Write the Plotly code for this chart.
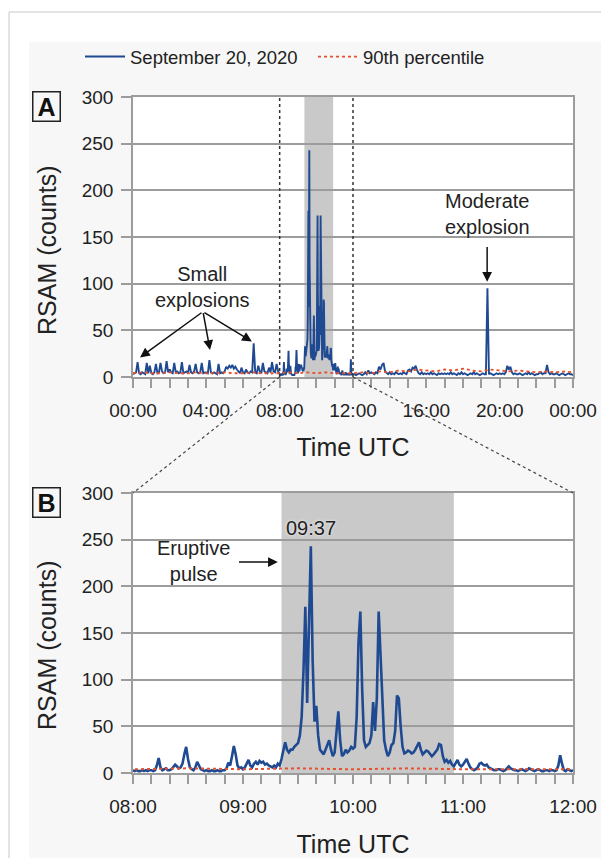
import pandas as pd
import plotly.graph_objects as go

DAY = "2020-09-20"
NEXT = "2020-09-21"

# RSAM 00:00-07:55, 5-min samples (one row per hour)
pre_rows = [
    [3, 4, 5, 16, 4, 3, 5, 4, 3, 15, 4, 12],
    [4, 3, 5, 14, 4, 5, 15, 6, 4, 5, 17, 5],
    [8, 5, 4, 15, 5, 6, 4, 5, 16, 4, 5, 6],
    [4, 13, 5, 4, 6, 14, 5, 4, 5, 15, 4, 5],
    [5, 4, 18, 5, 4, 5, 4, 3, 14, 4, 5, 4],
    [6, 11, 9, 12, 10, 13, 9, 11, 8, 6, 4, 10],
    [5, 4, 8, 5, 4, 6, 5, 36, 5, 4, 12, 6],
    [4, 15, 6, 5, 4, 10, 5, 16, 6, 5, 14, 6],
]
# RSAM 08:00-12:00, 1-min samples
zoom_vals = [
    3, 2, 3, 2, 2, 3, 2, 3, 2, 3, 3, 2, 3,
    8, 16, 6, 3, 4, 5, 3, 3, 4,
    7, 9, 7, 5, 6, 10, 20, 28, 15, 6, 4, 3, 6, 12, 8, 4, 3,
    2, 3, 2, 2, 3, 2, 2, 3, 2, 2, 3, 3,
    5, 11, 8, 18, 29, 20, 8, 5, 6, 4,
    6, 10, 14, 8, 6, 10, 12, 9, 13, 11, 12, 9, 10, 8, 7, 6, 8, 6, 10, 8,
    15, 25, 33, 25, 22, 25, 25, 28, 30, 32,
    40, 60, 110, 178, 75, 150, 243, 120, 55, 72,
    40, 25, 22, 20, 25, 30, 35, 25, 18, 22,
    45, 66, 35, 18, 20, 25, 22, 24, 28, 26,
    28, 60, 140, 173, 90, 35, 28, 30, 32, 40,
    76, 45, 80, 173, 120, 75, 35, 25, 18, 22,
    30, 32, 45, 83, 80, 50, 28, 21, 22, 24,
    23, 21, 22, 25, 30, 33, 25, 20, 22, 24,
    23, 20, 18, 20, 22, 25, 31, 30, 18, 12,
    14, 11, 13, 9, 7, 10, 14, 9, 7, 9,
    12, 15, 10, 6, 4, 3, 4, 6, 10, 11,
    9, 8, 9, 6, 5, 4, 3, 3, 4, 4,
    3, 2, 3, 5, 7, 5, 4, 3, 3, 2,
    3, 4, 3, 2, 3, 5, 4, 3, 2, 3,
    4, 3, 2, 2, 3, 3, 2, 3, 3, 2,
    3, 8, 19, 10, 3, 2, 4, 3, 2, 3,
]
# RSAM 12:05-24:00, 5-min samples (one row per hour)
post_rows = [
    [3, 2, 3, 4, 3, 2, 3, 5, 3, 7, 4, 5],
    [4, 3, 5, 4, 11, 8, 13, 15, 6, 4, 3, 5],
    [3, 4, 3, 5, 4, 3, 4, 3, 5, 4, 3, 7],
    [8, 6, 10, 9, 12, 7, 4, 3, 5, 3, 4, 3],
    [4, 3, 5, 3, 4, 3, 2, 4, 3, 4, 3, 4],
    [3, 4, 3, 5, 3, 4, 3, 2, 4, 3, 5, 3],
    [4, 3, 2, 3, 4, 3, 5, 3, 4, 3, 2, 3],
    [4, 3, 3, 95, 3, 4, 3, 2, 3, 4, 3, 4],
    [3, 4, 3, 5, 12, 8, 11, 5, 3, 4, 3, 3],
    [4, 3, 2, 3, 4, 3, 5, 3, 4, 3, 2, 3],
    [3, 4, 5, 3, 4, 4, 13, 5, 3, 4, 3, 3],
    [4, 3, 2, 3, 4, 3, 2, 3, 4, 3, 3, 2],
]
# 90th percentile, 30-min samples 00:00-24:00
p90_vals = [
    4, 5, 4, 4, 5, 4, 4, 5, 4, 4, 5, 4, 4, 5, 4, 4,
    4, 5, 4, 5, 4, 5, 4, 4,
    4, 5, 4, 6, 5, 7, 6, 8, 7, 6, 8, 7, 9, 7, 6, 8, 7, 6, 7, 6, 5, 6, 5, 6,
    5,
]
shade_start, shade_end = "09:21", "10:55"
peak_label = "09:37"

pre_vals = [v for r in pre_rows for v in r]
post_vals = [v for r in post_rows for v in r]
pre_t = pd.date_range(f"{DAY} 00:00", periods=len(pre_vals), freq="5min")
zoom_t = pd.date_range(f"{DAY} 08:00", periods=len(zoom_vals), freq="1min")
post_t = pd.date_range(f"{DAY} 12:05", periods=len(post_vals), freq="5min")
p90_t = pd.date_range(f"{DAY} 00:00", periods=len(p90_vals), freq="30min")

day_t = list(pre_t) + list(zoom_t) + list(post_t)
day_v = pre_vals + zoom_vals + post_vals

BLUE = "#1f4a92"
RED = "#e5502e"
GRID = "#9c9c9c"
TXT = "#222222"
BG = "#f7f7f7"
FONT = "Liberation Sans, Arial, sans-serif"
W, H = 601, 858

def px(x):
    return x / W

def py(y):
    return 1 - y / H

XA = [px(133), px(573)]
YA = [py(377), py(97)]
YB = [py(773), py(493)]

fig = go.Figure()
fig.add_trace(go.Scatter(x=day_t, y=day_v, mode="lines", name="September 20, 2020",
                         line=dict(color=BLUE, width=1.9), xaxis="x", yaxis="y"))
fig.add_trace(go.Scatter(x=p90_t, y=p90_vals, mode="lines", name="90th percentile",
                         line=dict(color=RED, width=1.8, dash="dot"), xaxis="x", yaxis="y"))
fig.add_trace(go.Scatter(x=zoom_t, y=zoom_vals, mode="lines", showlegend=False,
                         line=dict(color=BLUE, width=2.6), xaxis="x2", yaxis="y2"))
fig.add_trace(go.Scatter(x=p90_t, y=p90_vals, mode="lines", showlegend=False,
                         line=dict(color=RED, width=2, dash="dot"), xaxis="x2", yaxis="y2"))

axis_common = dict(showline=True, linecolor=GRID, linewidth=1.5, mirror=True,
                   ticks="outside", tickcolor=GRID, tickwidth=1.5, automargin=False,
                   tickfont=dict(size=19, color=TXT, family=FONT))
yax = dict(axis_common, range=[0, 300], dtick=50, ticklen=10, showgrid=True,
           gridcolor=GRID, gridwidth=1.5, zeroline=False, ticklabelstandoff=4)
TF = dict(size=25, color=TXT, family=FONT)
fig.update_layout(
    width=W, height=H, margin=dict(l=0, r=0, t=0, b=0, autoexpand=False),
    paper_bgcolor=BG, plot_bgcolor="white",
    font=dict(family=FONT, color=TXT),
    xaxis=dict(axis_common, type="date", domain=XA, anchor="y",
               range=[f"{DAY} 00:00", f"{NEXT} 00:00"], dtick=4 * 3600000, tick0=f"{DAY} 00:00",
               tickformat="%H:%M", ticklen=9, showgrid=False, ticklabelstandoff=6,
               minor=dict(dtick=3600000, ticks="outside", ticklen=9, tickcolor=GRID, tickwidth=1.5, showgrid=False),
               title=dict(text="Time UTC", font=TF, standoff=19)),
    yaxis=dict(yax, domain=YA, anchor="x"),
    xaxis2=dict(axis_common, type="date", domain=XA, anchor="y2",
                range=[f"{DAY} 08:00", f"{DAY} 12:00"], dtick=3600000, tick0=f"{DAY} 08:00",
                tickformat="%H:%M", ticklen=9, showgrid=False, ticklabelstandoff=6,
                minor=dict(dtick=600000, ticks="outside", ticklen=9, tickcolor=GRID, tickwidth=1.5, showgrid=False),
                title=dict(text="Time UTC", font=TF, standoff=32)),
    yaxis2=dict(yax, domain=YB, anchor="x2"),
    legend=dict(orientation="h", x=px(80), y=py(57), xanchor="left", yanchor="middle",
                bgcolor="rgba(0,0,0,0)", font=dict(size=18.5, color=TXT, family=FONT),
                itemwidth=40, entrywidth=178, entrywidthmode="pixels"),
)

shapes = [
    dict(type="rect", xref="paper", yref="paper", x0=0, x1=1, y0=py(42), y1=1,
         fillcolor="white", line=dict(width=0), layer="below"),
    dict(type="rect", xref="paper", yref="paper", x0=0, x1=px(29), y0=0, y1=1,
         fillcolor="white", line=dict(width=0), layer="below"),
    dict(type="line", xref="paper", yref="paper", x0=px(9), x1=1, y0=py(12), y1=py(12),
         line=dict(color="#c8c8c8", width=1), layer="below"),
    dict(type="line", xref="paper", yref="paper", x0=px(9), x1=px(9), y0=0, y1=py(12),
         line=dict(color="#c8c8c8", width=1), layer="below"),
]
for xr, yr in (("x", "y"), ("x2", "y2")):
    shapes.append(dict(type="rect", xref=xr, yref=f"{yr} domain",
                       x0=f"{DAY} {shade_start}", x1=f"{DAY} {shade_end}", y0=0, y1=1,
                       fillcolor="#c9c9c9", line=dict(width=0), layer="below"))
for hh in ("08:00", "12:00"):
    shapes.append(dict(type="line", xref="x", yref="y domain", x0=f"{DAY} {hh}", x1=f"{DAY} {hh}",
                       y0=0, y1=1, line=dict(color="#333333", width=1.5, dash="dot"), layer="above"))
span = 24.0
for hrs, xb in ((8, XA[0]), (12, XA[1])):
    xa = XA[0] + (XA[1] - XA[0]) * hrs / span
    shapes.append(dict(type="line", xref="paper", yref="paper", x0=xa, y0=YA[0], x1=xb, y1=YB[1],
                       line=dict(color="#444444", width=1.2, dash="dot"), layer="above"))
fig.update_layout(shapes=shapes)

AF = dict(size=20, color=TXT, family=FONT)
ann = []
for letter, yy in (("A", 107), ("B", 503)):
    ann.append(dict(text=f"<b>{letter}</b>", xref="paper", yref="paper", x=px(46), y=py(yy),
                    xanchor="center", yanchor="middle",
                    showarrow=False, font=dict(size=25, color="#111", family=FONT),
                    bordercolor="#222", borderwidth=1.5, borderpad=1, width=24, height=26,
                    bgcolor="rgba(0,0,0,0)"))
for yy in (251, 646):
    ann.append(dict(text="RSAM (counts)", xref="paper", yref="paper", x=px(47), y=py(yy),
                    xanchor="center", yanchor="middle", textangle=-90, showarrow=False, font=TF))
ann.append(dict(text="Small<br>explosions", x=f"{DAY} 03:49", y=96, xref="x", yref="y",
                xanchor="center", yanchor="middle", showarrow=False, font=AF))
for hx, hy in (("00:23", 21), ("04:12", 29), ("06:29", 38)):
    ann.append(dict(text="", x=f"{DAY} {hx}", y=hy, xref="x", yref="y",
                    ax=f"{DAY} 03:49", ay=70, axref="x", ayref="y",
                    showarrow=True, arrowhead=2, arrowsize=1.3, arrowwidth=1.5, arrowcolor="#111"))
ann.append(dict(text="Moderate<br>explosion", x=f"{DAY} 19:19", y=175, xref="x", yref="y",
                xanchor="center", yanchor="middle", showarrow=False, font=AF))
ann.append(dict(text="", x=f"{DAY} 19:19", y=102, xref="x", yref="y",
                ax=f"{DAY} 19:19", ay=141, axref="x", ayref="y",
                showarrow=True, arrowhead=2, arrowsize=1.3, arrowwidth=1.5, arrowcolor="#111"))
ann.append(dict(text="Eruptive<br>pulse", x=f"{DAY} 08:33", y=227, xref="x2", yref="y2",
                xanchor="center", yanchor="middle", showarrow=False, font=AF))
ann.append(dict(text="", x=f"{DAY} 09:19", y=226, xref="x2", yref="y2",
                ax=f"{DAY} 08:57", ay=226, axref="x2", ayref="y2",
                showarrow=True, arrowhead=2, arrowsize=1.3, arrowwidth=1.5, arrowcolor="#111"))
ann.append(dict(text=peak_label, x=f"{DAY} {peak_label}", y=262, xref="x2", yref="y2",
                xanchor="center", yanchor="middle",
                showarrow=False, font=dict(size=20, color=TXT, family=FONT, shadow="0px 0px 3px white")))
fig.update_layout(annotations=ann)

fig.write_html("out.html")
